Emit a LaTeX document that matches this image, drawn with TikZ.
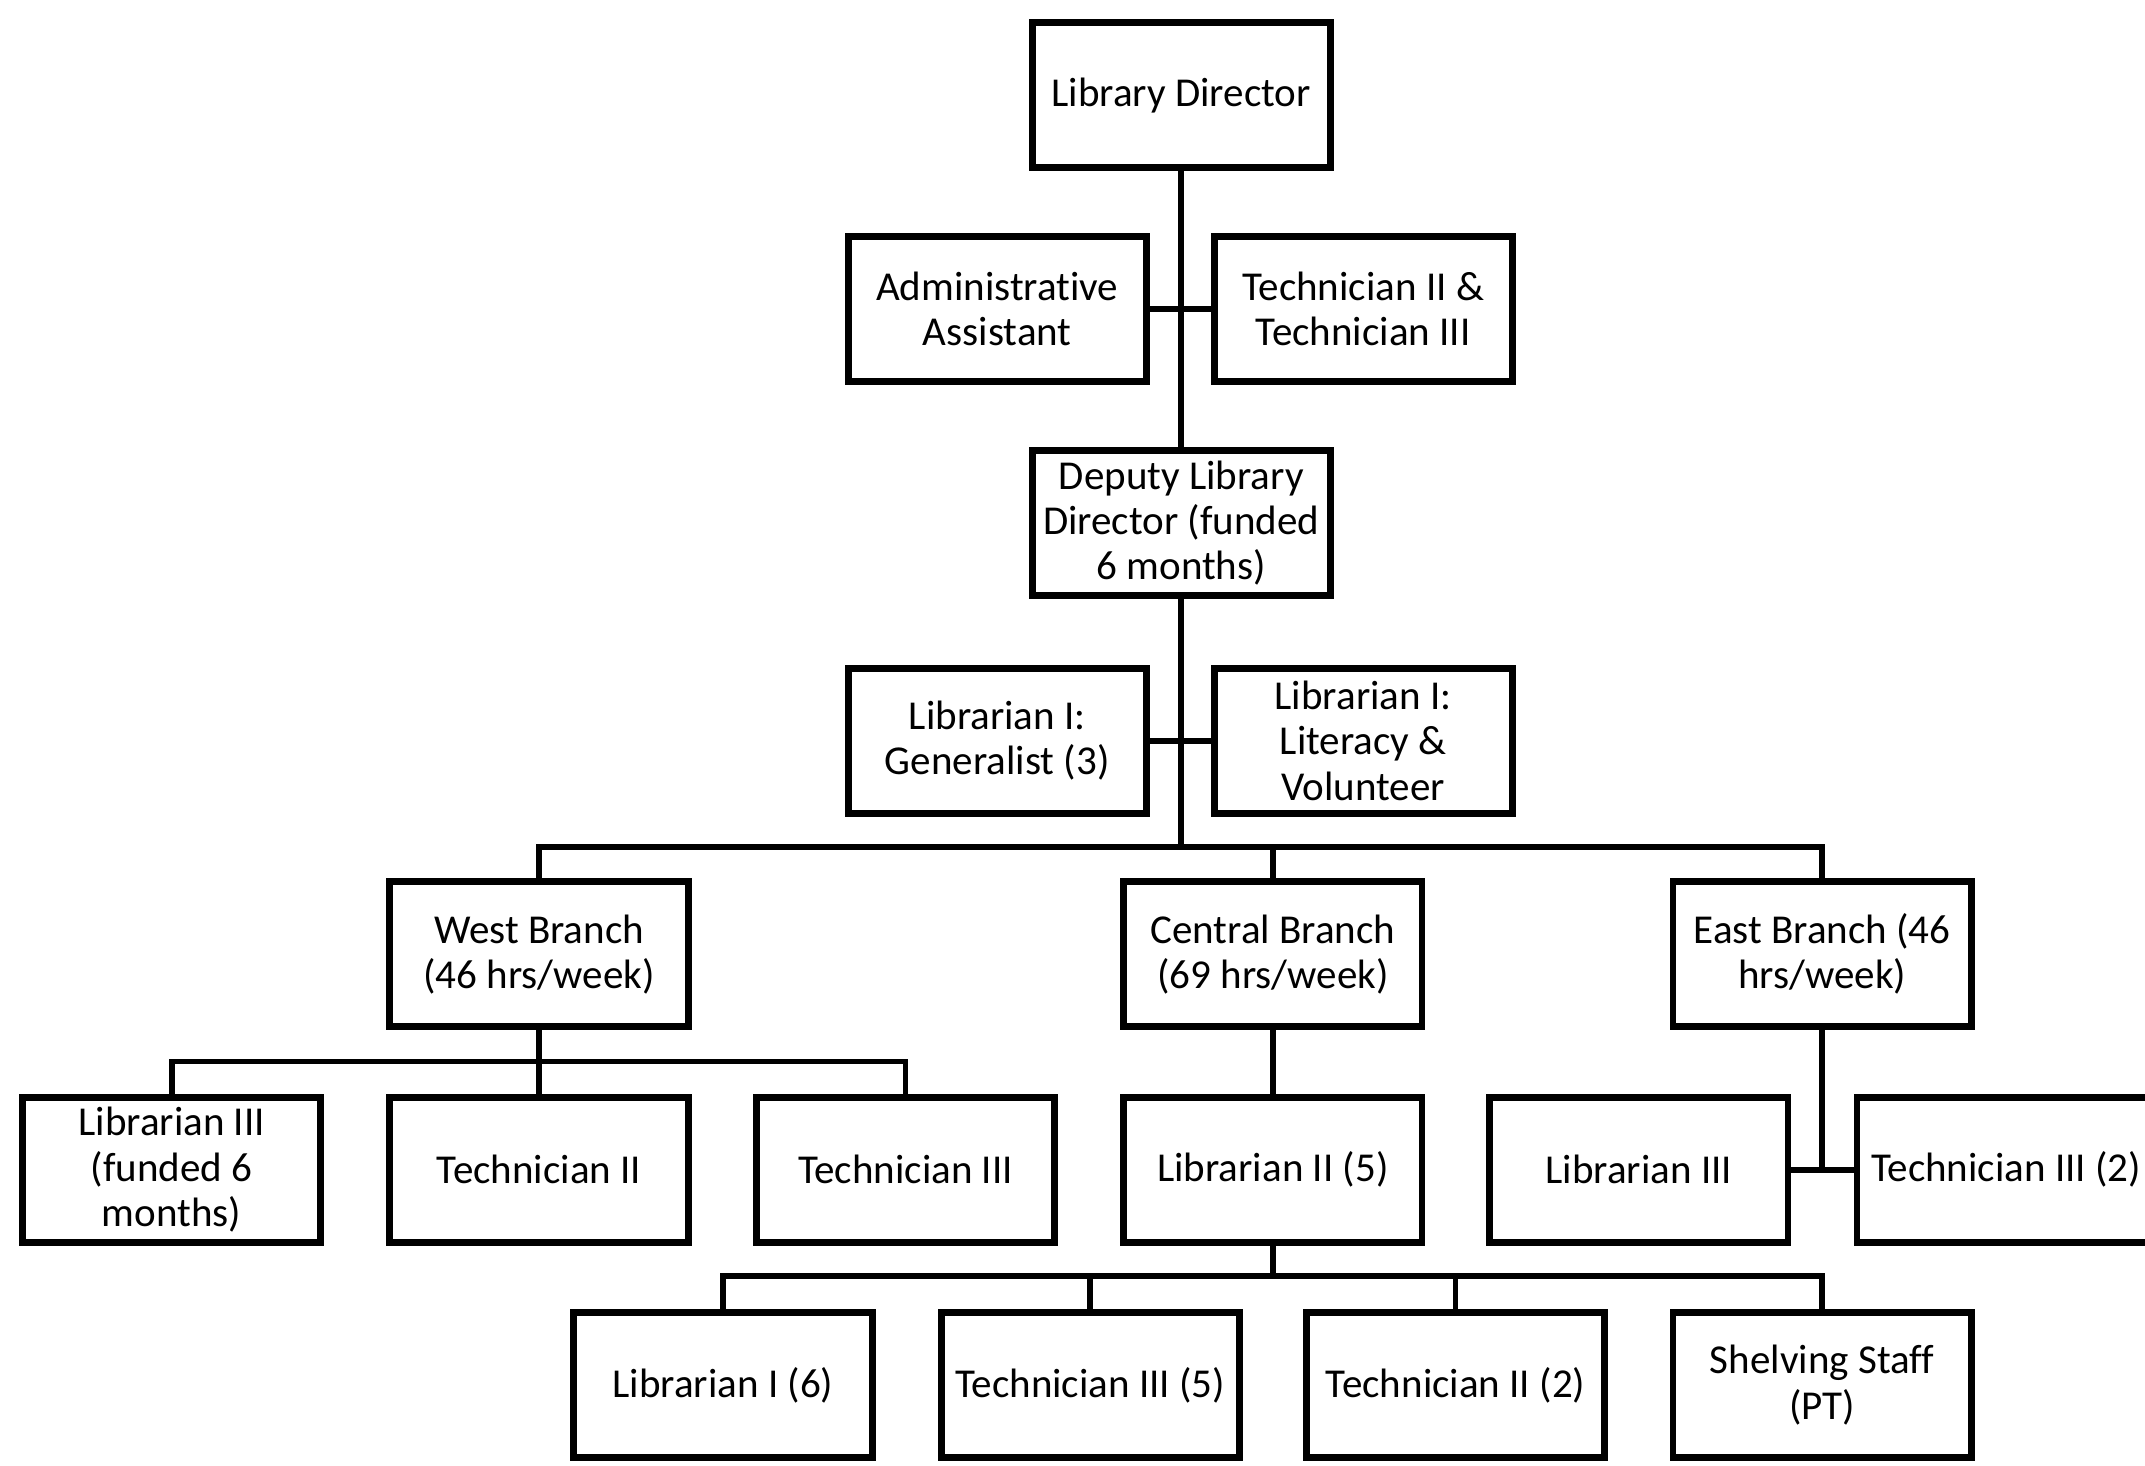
\documentclass[tikz,border=0pt]{standalone}
\usepackage{fontspec}
\setmainfont{Carlito}[Ligatures={NoCommon}]
\begin{document}
\begin{tikzpicture}[x=1pt,y=-1pt,
  box/.style={draw, line width=5pt, minimum width=218pt, minimum height=106pt,
    inner sep=1pt, align=center, font=\fontsize{30}{33}\selectfont, fill=white},
  link/.style={line width=4.2pt}]
\useasboundingbox (0,0) rectangle (1568,1071);
\fill[white] (0,0) rectangle (1568,1071);

% Directors and their staff
\node[box] (dir) at (863.5,69.5) {Library Director};
\node[box] (admin) at (729,226) {Administrative\\Assistant};
\node[box] (tech23) at (996.5,226) {Technician II \&\\Technician III};
\node[box] (dep) at (863.5,382.5) {Deputy Library\\Director (funded\\6 months)};
\node[box] (gen) at (729,541.5) {Librarian I:\\Generalist (3)};
\node[box] (lit) at (996.5,541.5) {Librarian I:\\Literacy \&\\Volunteer};

% Branches
\node[box] (west) at (394,697.5) {West Branch\\(46 hrs/week)};
\node[box] (central) at (930.5,697.5) {Central Branch\\(69 hrs/week)};
\node[box] (east) at (1332,697.5) {East Branch (46\\hrs/week)};

% Branch staff
\node[box] (lib3w) at (125.5,855) {Librarian III\\(funded 6\\months)};
\node[box] (tech2w) at (394,855) {Technician II};
\node[box] (tech3w) at (662,855) {Technician III};
\node[box] (lib2) at (930.5,855) {Librarian II (5)};
\node[box] (lib3e) at (1198,855) {Librarian III};
\node[box] (tech3e) at (1466.5,855) {Technician III (2)};

% Central branch staff
\node[box] (lib1c) at (528.5,1012.5) {Librarian I (6)};
\node[box] (tech3c) at (797,1012.5) {Technician III (5)};
\node[box] (tech2c) at (1064,1012.5) {Technician II (2)};
\node[box] (shelv) at (1332,1012.5) {Shelving Staff\\(PT)};

% Junction points
\coordinate (trunk) at (863.5,619);
\coordinate (wbus) at (394,776);
\coordinate (cbus) at (930.5,933);

% Connectors
\begin{scope}[link]
\draw (dir.south) -- (dep.north);
\draw (admin.east) -- (tech23.west);
\draw (dep.south) -- (trunk);
\draw (gen.east) -- (lit.west);
\draw (west.north) |- (trunk) -| (east.north);
\draw (central.north) -- (central.north |- trunk);

\draw (west.south) -- (wbus);
\draw (lib3w.north) |- (wbus) -| (tech3w.north);
\draw (tech2w.north) -- (wbus);

\draw (central.south) -- (lib2.north);
\draw (lib2.south) -- (cbus);
\draw (lib1c.north) |- (cbus) -| (shelv.north);
\draw (tech3c.north) -- (tech3c.north |- cbus);
\draw (tech2c.north) -- (tech2c.north |- cbus);

\draw (east.south) -- (east.south |- lib3e.east);
\draw (lib3e.east) -- (tech3e.west);
\end{scope}
\end{tikzpicture}
\end{document}
